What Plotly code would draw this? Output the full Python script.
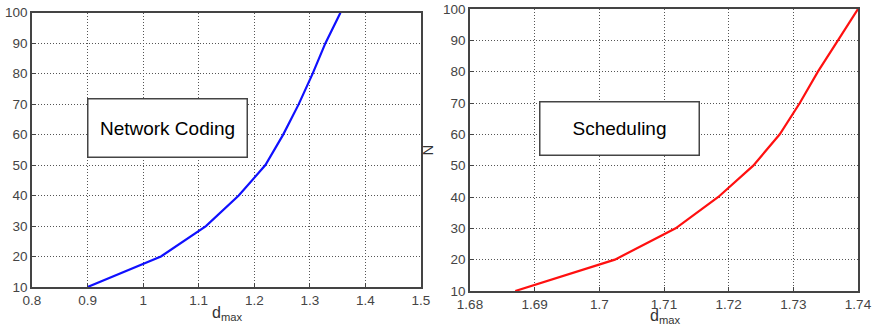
import plotly.graph_objects as go

# Data
nc_dmax = [0.9, 1.032, 1.113, 1.172, 1.22, 1.252, 1.28, 1.305, 1.328, 1.355]
nc_N = [10, 20, 30, 40, 50, 60, 70, 80, 90, 100]
sc_dmax = [1.687, 1.7024, 1.7118, 1.7184, 1.7238, 1.7279, 1.731, 1.7338, 1.7369, 1.74]
sc_N = [10, 20, 30, 40, 50, 60, 70, 80, 90, 100]

left_xticks = [0.8, 0.9, 1.0, 1.1, 1.2, 1.3, 1.4, 1.5]
left_xlabels = ["0.8", "0.9", "1", "1.1", "1.2", "1.3", "1.4", "1.5"]
right_xticks = [1.68, 1.69, 1.70, 1.71, 1.72, 1.73, 1.74]
right_xlabels = ["1.68", "1.69", "1.7", "1.71", "1.72", "1.73", "1.74"]
yticks = [10, 20, 30, 40, 50, 60, 70, 80, 90, 100]

fig = go.Figure()
fig.add_trace(go.Scatter(x=nc_dmax, y=nc_N, mode="lines",
                         line=dict(color="#1010ff", width=2.2), xaxis="x", yaxis="y",
                         showlegend=False))
fig.add_trace(go.Scatter(x=sc_dmax, y=sc_N, mode="lines",
                         line=dict(color="#ff1010", width=2.2), xaxis="x2", yaxis="y2",
                         showlegend=False))

FAM = "Liberation Sans, Arial, sans-serif"
font = dict(family=FAM, size=13.5, color="#444444")
axis_common = dict(showgrid=True, gridcolor="#555555", griddash="1px,2px", gridwidth=1,
                   showline=True, linecolor="#444444", linewidth=1.5, mirror=True,
                   ticks="inside", ticklen=4, tickcolor="#444444", zeroline=False,
                   tickfont=font, automargin=False, ticklabeloverflow="allow")
title_font = dict(family=FAM, size=16, color="#333333")

W, H = 873, 331


def px(x):
    return x / W


def py(y):
    return 1 - y / H


fig.update_layout(
    width=W, height=H,
    margin=dict(l=0, r=0, t=0, b=0),
    paper_bgcolor="white", plot_bgcolor="white",
    xaxis=dict(domain=[px(32), px(421)], range=[0.8, 1.5], tickvals=left_xticks,
               ticktext=left_xlabels, anchor="y", **axis_common),
    yaxis=dict(domain=[py(287), py(12.7)], range=[10, 100], tickvals=yticks,
               anchor="x", ticklabelstandoff=0, **axis_common),
    xaxis2=dict(domain=[px(470), px(858)], range=[1.68, 1.74], tickvals=right_xticks,
                ticktext=right_xlabels, anchor="y2", **axis_common),
    yaxis2=dict(domain=[py(291), py(9)], range=[10, 100], tickvals=yticks,
                anchor="x2", ticklabelstandoff=0,
                title=dict(text="N", font=dict(family=FAM, size=15, color="#333333"), standoff=6),
                **axis_common),
    annotations=[
        dict(text="d<sub>max</sub>", xref="paper", yref="paper", x=px(227), y=py(313),
             xanchor="center", yanchor="middle", showarrow=False, font=title_font),
        dict(text="d<sub>max</sub>", xref="paper", yref="paper", x=px(665), y=py(316.5),
             xanchor="center", yanchor="middle", showarrow=False, font=title_font),
        dict(text="Network Coding", xref="paper", yref="paper",
             x=px((87 + 247) / 2), y=py((99 + 158) / 2), xanchor="center", yanchor="middle",
             showarrow=False, width=156, height=55, bordercolor="#444444", borderwidth=1.5,
             bgcolor="white", font=dict(family=FAM, size=19, color="black")),
        dict(text="Scheduling", xref="paper", yref="paper",
             x=px((539 + 699) / 2), y=py((101 + 155) / 2), xanchor="center", yanchor="middle",
             showarrow=False, width=156, height=50, bordercolor="#444444", borderwidth=1.5,
             bgcolor="white", font=dict(family=FAM, size=19, color="black")),
    ],
)

fig.write_html("out.html", config={"displayModeBar": False},
               post_script="document.body.style.margin='0';")
